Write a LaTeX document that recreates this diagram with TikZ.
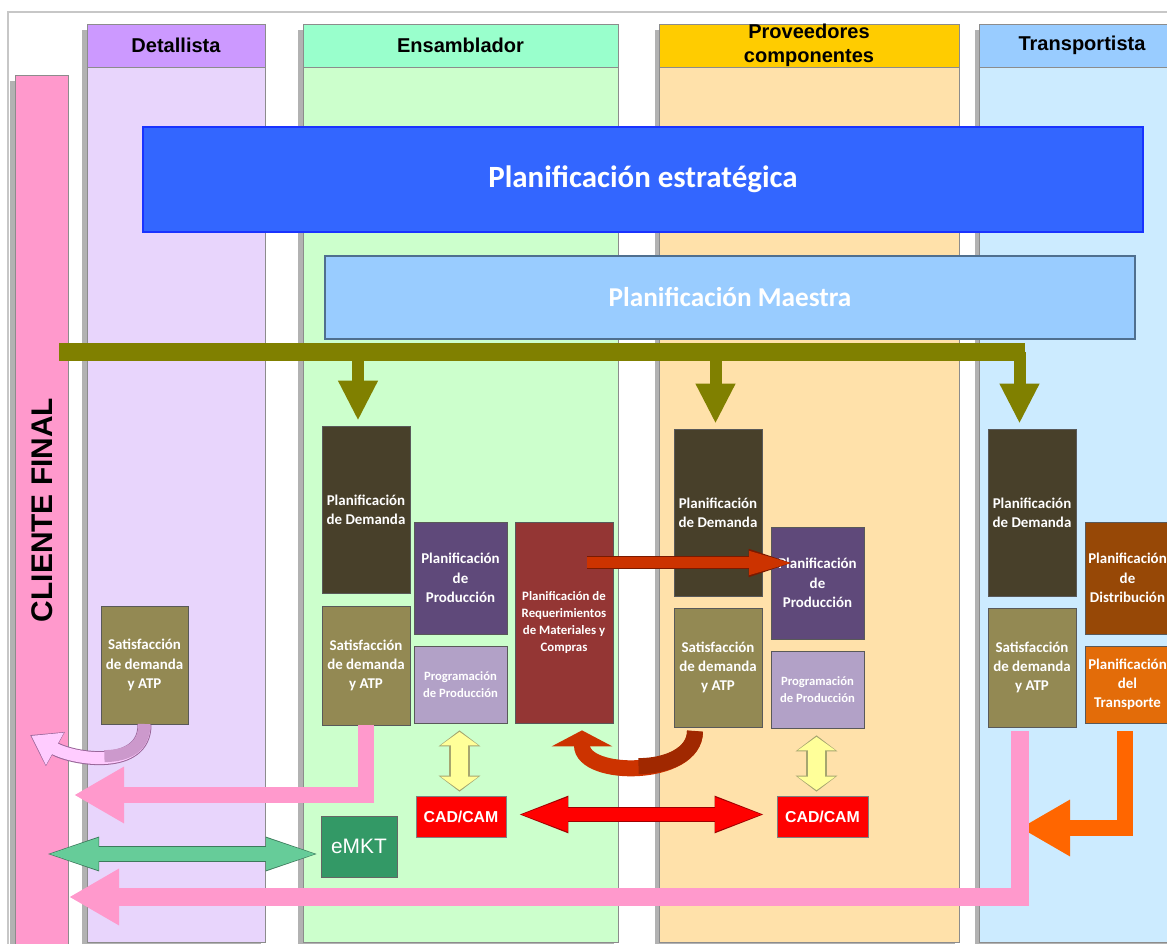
\documentclass[tikz,border=0pt]{standalone}
\usepackage{fontspec}
\setmainfont{Carlito}
\newfontfamily\arial{Liberation Sans}
\usetikzlibrary{arrows.meta,calc,shadows}

\definecolor{pinkbar}{HTML}{FF99CC}
\definecolor{dethead}{HTML}{CC99FF}
\definecolor{detbody}{HTML}{E8D5FC}
\definecolor{enshead}{HTML}{99FFCC}
\definecolor{ensbody}{HTML}{CCFFCC}
\definecolor{provhead}{HTML}{FFCC00}
\definecolor{provbody}{HTML}{FFE1AA}
\definecolor{trahead}{HTML}{99CCFF}
\definecolor{trabody}{HTML}{CCEBFF}
\definecolor{stratc}{HTML}{3366FF}
\definecolor{stratbord}{HTML}{1A33FF}
\definecolor{maec}{HTML}{99CCFF}
\definecolor{maebord}{HTML}{4F6F8F}
\definecolor{olivec}{HTML}{808000}
\definecolor{demc}{HTML}{48402A}
\definecolor{satc}{HTML}{938953}
\definecolor{prodc}{HTML}{5F497A}
\definecolor{progc}{HTML}{B2A1C7}
\definecolor{mrpc}{HTML}{943634}
\definecolor{distc}{HTML}{974806}
\definecolor{trac}{HTML}{E36C09}
\definecolor{cadc}{HTML}{FF0000}
\definecolor{emktc}{HTML}{339966}
\definecolor{greenc}{HTML}{66CC99}
\definecolor{greenbord}{HTML}{3D7A5C}
\definecolor{yelc}{HTML}{FFFF99}
\definecolor{yelbord}{HTML}{A6A66F}
\definecolor{redbord}{HTML}{A00000}
\definecolor{rustc}{HTML}{CC3300}
\definecolor{rustdark}{HTML}{A02800}
\definecolor{rustbord}{HTML}{7A1A00}
\definecolor{orc}{HTML}{FF6600}
\definecolor{lavc}{HTML}{FFCCFF}
\definecolor{lavdark}{HTML}{CC99CC}
\definecolor{lavbord}{HTML}{996699}

\begin{document}
\begin{tikzpicture}[x=0.2mm,y=-0.2mm,
colbody/.style={draw=black!45, inner sep=0, minimum height=183.6mm,
  drop shadow={shadow xshift=-0.9mm, shadow yshift=-1.2mm, fill=black!30, opacity=1}},
colhead/.style={draw=black!45, inner sep=0, minimum height=8.6mm, align=center,
  font=\arial\bfseries\fontsize{11.4}{14}\selectfont},
pbox/.style={draw=black!65, text=white, inner sep=0, align=center,
  minimum width=17.6mm, font=\bfseries\fontsize{8.5}{11}\selectfont},
smalltext/.style={font=\bfseries\fontsize{7.2}{9.8}\selectfont},
cadbox/.style={draw=black!50, fill=cadc, text=white, inner sep=0,
  minimum width=18mm, minimum height=8.2mm, font=\arial\bfseries\fontsize{9}{11}\selectfont},
olivebar/.style={draw=olivec, line width=3.6mm},
olivedrop/.style={draw=olivec, line width=2.4mm, -{Triangle[length=8mm,width=7.4mm]}},
pinkarr/.style={draw=pinkbar, line width=3.3mm, line join=miter, -{Triangle[length=10mm,width=10.6mm]}},
orarr/.style={draw=orc, line width=3.2mm, line join=miter, -{Triangle[length=10mm,width=10.6mm]}},
yelout/.style={draw=yelbord, line width=4.2mm, {Triangle[length=3.2mm,width=8.2mm]}-{Triangle[length=3.2mm,width=8.2mm]}},
yelin/.style={draw=yelc, line width=3.4mm, shorten <=0.3mm, shorten >=0.3mm, {Triangle[length=2.7mm,width=7.4mm]}-{Triangle[length=2.7mm,width=7.4mm]}},
redout/.style={draw=redbord, line width=3mm, {Triangle[length=10.4mm,width=6.6mm]}-{Triangle[length=10.4mm,width=6.6mm]}},
redin/.style={draw=cadc, line width=2.6mm, shorten <=0.3mm, shorten >=0.3mm, {Triangle[length=10mm,width=6mm]}-{Triangle[length=10mm,width=6mm]}},
greenout/.style={draw=greenbord, line width=3.2mm, {Triangle[length=11.8mm,width=5.8mm]}-{Triangle[length=11.8mm,width=5.8mm]}},
greenin/.style={draw=greenc, line width=2.8mm, shorten <=0.3mm, shorten >=0.3mm, {Triangle[length=11.4mm,width=5.4mm]}-{Triangle[length=11.4mm,width=5.4mm]}},
rthinout/.style={draw=rustbord, line width=2.6mm, -{Triangle[length=10.4mm,width=4.6mm]}},
rthinin/.style={draw=rustc, line width=2.2mm, shorten >=0.3mm, -{Triangle[length=10mm,width=4mm]}},
curvearr/.style={draw=rustc, line width=3.2mm, -{Triangle[length=3.2mm,width=12mm]}},
lavout/.style={draw=lavbord, line width=2.8mm, -{Triangle[length=5.8mm,width=7.4mm]}},
lavin/.style={draw=lavc, line width=2.4mm, shorten >=0.3mm, -{Triangle[length=5.4mm,width=7mm]}}]

\useasboundingbox (0,0) rectangle (1167,944);
\draw[black!22, line width=0.3mm] (8,950) |- (1167,12);

% columns
\node[colbody, fill=pinkbar, minimum width=10.6mm, minimum height=175mm] (cliente) at (41.5,512.5) {};
\node[rotate=90, font=\arial\bfseries\fontsize{17}{20}\selectfont] (clientelbl) at (42,510) {CLIENTE FINAL};

\node[colbody, fill=detbody, minimum width=35.6mm] (detcol) at (176,483) {};
\node[colbody, fill=ensbody, minimum width=63mm] (enscol) at (460.5,483) {};
\node[colbody, fill=provbody, minimum width=60mm] (provcol) at (809,483) {};
\node[colbody, fill=trabody, minimum width=41.2mm] (tracol) at (1082,483) {};

\node[colhead, fill=dethead, minimum width=35.6mm] (dethd) at (176,45.5) {Detallista};
\node[colhead, fill=enshead, minimum width=63mm] (enshd) at (460.5,45.5) {Ensamblador};
\node[colhead, fill=provhead, minimum width=60mm] (provhd) at (809,45.5) {Proveedores\\componentes};
\node[colhead, fill=trahead, minimum width=41.2mm] (trahd) at (1082,45.5) {Transportista};

\node[draw=stratbord, line width=0.4mm, fill=stratc, text=white, minimum width=200mm, minimum height=21mm,
  font=\bfseries\fontsize{17.6}{20}\selectfont] (estrat) at (643,179.5) {Planificación estratégica};
\node[draw=maebord, line width=0.3mm, fill=maec, text=white, minimum width=162mm, minimum height=16.6mm,
  font=\bfseries\fontsize{15.5}{18}\selectfont] (maestra) at (730,297.5) {Planificación Maestra};

% boxes
\node[pbox, fill=satc, minimum width=17.4mm, minimum height=23.6mm] (satD) at (144.5,665) {Satisfacción\\de demanda\\y ATP};

\node[pbox, fill=demc, minimum height=33.4mm] (demE) at (366,509.5) {Planificación\\de Demanda};
\node[pbox, fill=satc, minimum height=23.8mm] (satE) at (366,665.5) {Satisfacción\\de demanda\\y ATP};
\node[pbox, fill=prodc, minimum width=18.6mm, minimum height=22.4mm] (prodE) at (460.5,578) {Planificación\\de\\Producción};
\node[pbox, smalltext, fill=progc, minimum width=18.6mm, minimum height=15.4mm] (progE) at (460.5,684.5) {Programación\\de Producción};
\node[pbox, fill=mrpc, minimum width=19.6mm, minimum height=40.2mm,
  font=\bfseries\fontsize{7.3}{9.6}\selectfont] (mrp) at (564,622.5) {Planificación de\\Requerimientos\\de Materiales y\\Compras};

\node[pbox, fill=demc, minimum height=33.4mm] (demP) at (718,512.5) {Planificación\\de Demanda};
\node[pbox, fill=satc, minimum height=23.8mm] (satP) at (718,667.5) {Satisfacción\\de demanda\\y ATP};
\node[pbox, fill=prodc, minimum width=18.6mm, minimum height=22.4mm] (prodP) at (817.5,583) {Planificación\\de\\Producción};
\node[pbox, smalltext, fill=progc, minimum width=18.6mm, minimum height=15.4mm] (progP) at (817.5,689.5) {Programación\\de Producción};

\node[pbox, fill=demc, minimum height=33.4mm] (demT) at (1032,512.5) {Planificación\\de Demanda};
\node[pbox, fill=satc, minimum height=23.8mm] (satT) at (1032,667.5) {Satisfacción\\de demanda\\y ATP};
\node[pbox, fill=distc, minimum width=17mm, minimum height=22.4mm] (distT) at (1127.5,578) {Planificación\\de\\Distribución};
\node[pbox, fill=trac, minimum width=17mm, minimum height=15.4mm] (transT) at (1127.5,684.5) {Planificación\\del\\Transporte};

\node[cadbox] (cadE) at (461,816.5) {CAD/CAM};
\node[cadbox, minimum width=18.2mm] (cadP) at (822.5,816.5) {CAD/CAM};
\node[draw=black!60, fill=emktc, text=white, inner sep=0, minimum width=15.2mm, minimum height=12.2mm,
  font=\arial\fontsize{11.9}{14}\selectfont] (emkt) at (359,846.5) {eMKT};

% olive distribution
\coordinate (olL) at (59,352);
\coordinate (olR) at (1025,352);
\draw[olivebar] (olL) -- (olR);
\foreach \n/\dx in {demE/-8, demP/-2.5, demT/-12.5}
{
    \draw[olivedrop] ($(\n.north |- olL)+(\dx,0)$) -- ($(\n.north)+(\dx,-5)$);
}

% flows
\draw[rthinout] ($(mrp.east)+(-26,-59.5)$) -- ($(prodP.west)+(30,-20)$);
\draw[rthinin] ($(mrp.east)+(-26,-59.5)$) -- ($(prodP.west)+(30,-20)$);

\foreach \a/\b in {progE/cadE, progP/cadP}
{
    \draw[yelout] ($(\a.south)+(-1,7)$) -- ($(\a.south |- \b.north)+(-1,-4)$);
    \draw[yelin] ($(\a.south)+(-1,7)$) -- ($(\a.south |- \b.north)+(-1,-4)$);
}

\draw[redout] ($(cadE.east)+(10,-2)$) -- ($(cadP.west)+(-10,-2)$);
\draw[redin] ($(cadE.east)+(10,-2)$) -- ($(cadP.west)+(-10,-2)$);

\coordinate (pinkA) at (74,795);
\coordinate (pinkB) at (69,897);
\coordinate (orC) at (1020,828);
\coordinate (greenL) at (40,854);

\draw[orarr] ($(transT.south)+(-2.5,8)$) |- (orC);
\draw[pinkarr] (satE.south) |- (pinkA);
\draw[pinkarr, line width=3.6mm] ($(satT.south)+(-12,4)$) |- (pinkB);

\draw[greenout] (greenL) -- ($(greenL -| emkt.west)+(4,0)$);
\draw[greenin] (greenL) -- ($(greenL -| emkt.west)+(4,0)$);

\draw[curvearr] ($(satP.south)+(-23,4)$) .. controls (695,778) and (582,778) .. ($(mrp.south)+(18,7)$);
\draw[draw=rustdark, line width=3.2mm] (695,731) .. controls (695,754.5) and (666.75,766.25) .. (638.5,766.1);

\coordinate (lavT) at (30,735);
\draw[lavout] (satD.south) .. controls (145,770) and (75,760) .. (lavT);
\draw[lavin] (satD.south) .. controls (145,770) and (75,760) .. (lavT);
\draw[draw=lavdark, line width=2.4mm] (144.5,724) .. controls (144.5,747) and (127.5,756) .. (104.4,756.1);

\end{tikzpicture}
\end{document}
